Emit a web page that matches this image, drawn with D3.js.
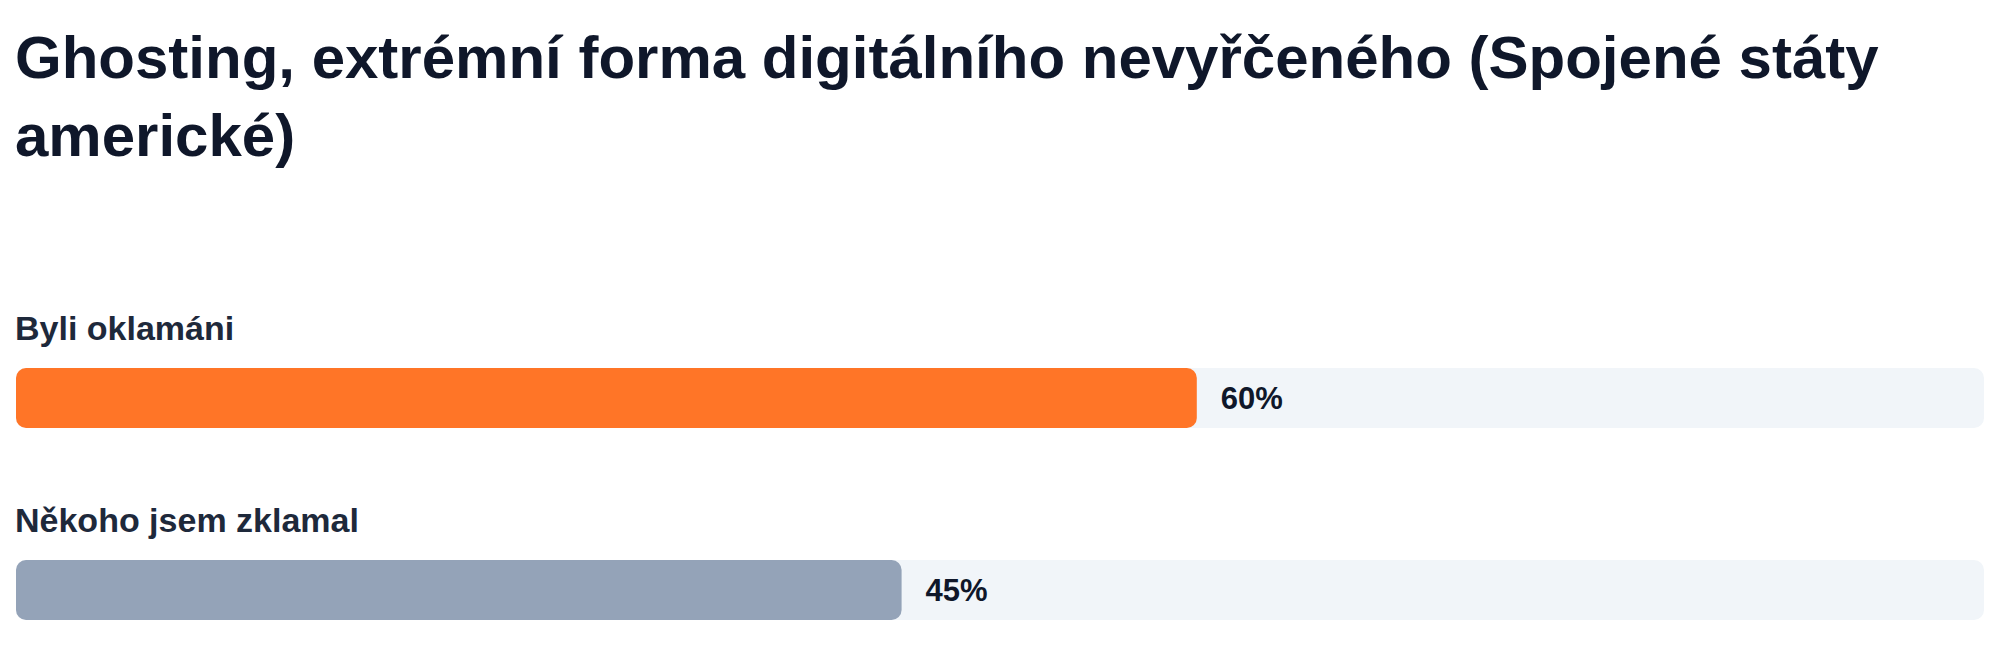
<!DOCTYPE html>
<html>
<head>
<meta charset="utf-8">
<script src="https://cdn.jsdelivr.net/npm/d3@7"></script>
<style>
  html, body { margin: 0; padding: 0; background: #ffffff; }
  svg { display: block; }
  text { font-family: "Liberation Sans", Arial, Helvetica, sans-serif; }
</style>
</head>
<body>
<div id="chart"></div>
<script>
const titleLines = ["Ghosting, extrémní forma digitálního nevyřčeného (Spojené státy", "americké)"];
const categories = ["Byli oklamáni", "Někoho jsem zklamal"];
const values = [60, 45];
const barColors = ["#ff7527", "#94a3b8"];
const domainMax = 100;

const W = 2000, H = 668;
const left = 16, right = 1984;

const svg = d3.select("#chart").append("svg").attr("width", W).attr("height", H);

svg.append("g").selectAll("text").data(titleLines).join("text")
  .attr("x", left - 1)
  .attr("y", (d, i) => 78 + i * 78)
  .attr("font-size", 60)
  .attr("font-weight", 700)
  .attr("fill", "#0f172a")
  .text(d => d);

const x = d3.scaleLinear().domain([0, domainMax]).range([left, right]);
const rowY = d3.scalePoint().domain(categories).range([0, 192]);

const rows = svg.append("g").selectAll("g").data(categories).join("g")
  .attr("transform", d => `translate(0,${340 + rowY(d)})`);

rows.append("text")
  .attr("x", left - 1)
  .attr("y", 0)
  .attr("font-size", 34)
  .attr("font-weight", 700)
  .attr("fill", "#1e293b")
  .text(d => d);

const barTop = 28, barH = 60;

rows.append("rect")
  .attr("x", x(0))
  .attr("y", barTop)
  .attr("width", x(domainMax) - x(0))
  .attr("height", barH)
  .attr("rx", 10)
  .attr("fill", "#f1f5f9");

rows.append("rect")
  .attr("x", x(0))
  .attr("y", barTop)
  .attr("width", (d, i) => x(values[i]) - x(0))
  .attr("height", barH)
  .attr("rx", 10)
  .attr("fill", (d, i) => barColors[i]);

rows.append("text")
  .attr("x", (d, i) => x(values[i]) + 24)
  .attr("y", barTop + barH / 2)
  .attr("dy", "0.36em")
  .attr("font-size", 31)
  .attr("font-weight", 700)
  .attr("fill", "#0f172a")
  .text((d, i) => values[i] + "%");
</script>
</body>
</html>
